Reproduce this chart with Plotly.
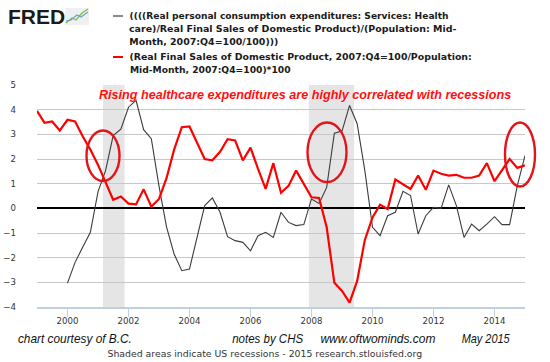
import json
import pandas as pd
import plotly.graph_objects as go

# ---------------- data ----------------
red_start = "1999-01-01"
red_values = [
    3.95, 3.47, 3.52, 3.16,   # 1999
    3.59, 3.52, 2.92, 2.38,   # 2000
    1.76, 1.02, 0.35, 0.48,   # 2001
    0.19, 0.16, 0.77, 0.07,   # 2002
    0.38, 1.22, 2.38, 3.29,   # 2003
    3.32, 2.66, 2.00, 1.95,   # 2004
    2.29, 2.80, 2.75, 1.94,   # 2005
    2.46, 1.60, 0.79, 1.83,   # 2006
    0.63, 0.91, 1.53, 0.99,   # 2007
    0.45, 0.42, -0.77, -3.02, # 2008
    -3.35, -3.82, -2.94, -1.28,  # 2009
    -0.37, 0.15, -0.03, 1.17,    # 2010
    0.99, 0.79, 1.33, 0.75,      # 2011
    1.53, 1.40, 1.33, 1.36,      # 2012
    1.24, 1.24, 1.33, 1.83,      # 2013
    1.10, 1.53, 2.00, 1.64,      # 2014
    1.74,                        # 2015
]
black_start = "2000-01-01"
black_values = [
    -3.03, -2.19, -1.58, -0.97,  # 2000
    0.68, 1.53, 2.95, 3.21,      # 2001
    4.10, 4.38, 3.19, 2.82,      # 2002
    0.90, -0.75, -1.85, -2.53,   # 2003
    -2.46, -1.18, 0.11, 0.42,    # 2004
    -0.16, -1.15, -1.31, -1.38,  # 2005
    -1.72, -1.11, -0.97, -1.18,  # 2006
    -0.16, -0.57, -0.70, -0.66,  # 2007
    0.38, 0.20, 0.85, 3.05,      # 2008
    3.13, 4.17, 3.43, 1.53,      # 2009
    -0.77, -1.11, -0.30, -0.16,  # 2010
    0.69, 0.52, -1.04, -0.30,    # 2011
    0.04, 0.00, 0.95, 0.11,      # 2012
    -1.18, -0.64, -0.91, -0.64,  # 2013
    -0.34, -0.66, -0.66, 0.92,   # 2014
    2.14,                        # 2015
]
recession_starts = ["2001-03-01", "2007-12-01"]
recession_ends = ["2001-11-15", "2009-05-25"]
x_tick_years = [2000, 2002, 2004, 2006, 2008, 2010, 2012, 2014]
y_ticks = [-4, -3, -2, -1, 0, 1, 2, 3, 4, 5]

black_name = ("((((Real personal consumption expenditures: Services: Health "
              "care)/Real Final Sales of Domestic Product)/(Population: Mid-"
              "Month, 2007:Q4=100/100)))")
red_name = ("(Real Final Sales of Domestic Product, 2007:Q4=100/Population: "
            "Mid-Month, 2007:Q4=100)*100")
black_legend_lines = [
    "((((Real personal consumption expenditures: Services: Health",
    "care)/Real Final Sales of Domestic Product)/(Population: Mid-",
    "Month, 2007:Q4=100/100)))",
]
red_legend_lines = [
    "(Real Final Sales of Domestic Product, 2007:Q4=100/Population:",
    "Mid-Month, 2007:Q4=100)*100",
]
headline = "Rising healthcare expenditures are highly correlated with recessions"
footer_notes = ["chart courtesy of B.C.", "notes by CHS", "www.oftwominds.com", "May 2015"]
source_note = "Shaded areas indicate US recessions - 2015 research.stlouisfed.org"

red_dates = pd.date_range(red_start, periods=len(red_values), freq="QS")
black_dates = pd.date_range(black_start, periods=len(black_values), freq="QS")

# ---------------- layout geometry (pixels) ----------------
W_PX, H_PX = 550, 362
L, R, T, B = 37, 525, 85, 307


def px(x):
    return (x - L) / (R - L)


def py(y):
    return (B - y) / (B - T)


fig = go.Figure()
fig.add_trace(go.Scatter(x=black_dates, y=black_values, mode="lines", name=black_name,
                         line=dict(color="#3c3c3c", width=1.1)))
fig.add_trace(go.Scatter(x=red_dates, y=red_values, mode="lines", name=red_name,
                         line=dict(color="#ff0000", width=2.2)))

shapes = []
for s, e in zip(recession_starts, recession_ends):
    shapes.append(dict(type="rect", xref="x", yref="paper", x0=s, x1=e, y0=0, y1=1,
                       fillcolor="#e5e5e5", line=dict(width=0), layer="below"))

# highlight ellipses
ellipse_px = [(86.5, 130.5, 119.5, 181), (307.5, 122.5, 346.5, 182), (505, 122.5, 535, 186.5)]
for x0, y0, x1, y1 in ellipse_px:
    shapes.append(dict(type="circle", xref="paper", yref="paper",
                       x0=px(x0), x1=px(x1), y0=py(y1), y1=py(y0),
                       line=dict(color="#e3151c", width=2.4), layer="above"))

# legend dashes
shapes.append(dict(type="line", xref="paper", yref="paper", x0=px(113), x1=px(123),
                   y0=py(16), y1=py(16), line=dict(color="#8a8a8a", width=2)))
shapes.append(dict(type="line", xref="paper", yref="paper", x0=px(113), x1=px(123),
                   y0=py(57), y1=py(57), line=dict(color="#ff0000", width=2)))

# small FRED icon
shapes.append(dict(type="rect", xref="paper", yref="paper", x0=px(65), x1=px(89),
                   y0=py(25), y1=py(8), fillcolor="#f0f0f0", line=dict(width=0)))
shapes.append(dict(type="path", xref="paper", yref="paper",
                   path="M {} {} L {} {} L {} {} L {} {} L {} {}".format(
                       px(66), py(23), px(72), py(18), px(76), py(20), px(82), py(13), px(88), py(9)),
                   line=dict(color="#7fbf3f", width=1.3)))
shapes.append(dict(type="path", xref="paper", yref="paper",
                   path="M {} {} L {} {} L {} {} L {} {} L {} {}".format(
                       px(66), py(21), px(71), py(20), px(77), py(15), px(81), py(17), px(88), py(12)),
                   line=dict(color="#6a9fd4", width=1.1)))

annotations = []
text_lengths = {}


def add_text(text, cx, cy, font, length=None):
    annotations.append(dict(text=text, xref="paper", yref="paper", x=px(cx), y=py(cy),
                            xanchor="center", yanchor="middle", showarrow=False, font=font))
    if length is not None:
        text_lengths[len(annotations) - 1] = length


add_text("FRED", 36, 16, dict(family="Liberation Sans", size=21, color="#1a1a1a", weight="bold"))

leg_font = dict(family="DejaVu Sans", size=8.6, color="#1a1a1a", weight="bold")
black_leg_geom = [(288.8, 319), (293.0, 327.4), (203.8, 149)]
for i, (line, (cx, ln)) in enumerate(zip(black_legend_lines, black_leg_geom)):
    add_text(line, cx, 16 + 13 * i, leg_font, ln)
red_leg_geom = [(300.5, 342.4), (209.7, 160.7)]
for i, (line, (cx, ln)) in enumerate(zip(red_legend_lines, red_leg_geom)):
    add_text(line, cx, 57 + 13 * i, leg_font, ln)

add_text(headline, 304.5, 94.5,
         dict(family="Liberation Sans", size=12.6, color="#ff1010", weight="bold", style="italic"))

footer_geom = [(74.8, 114), (267.3, 71), (378.3, 115), (486.2, 48)]
for t, (cx, ln) in zip(footer_notes, footer_geom):
    add_text(t, cx, 338, dict(family="Liberation Sans", size=13.5, color="#111111",
                              style="italic"), ln)

add_text(source_note, 265.3, 354.5, dict(family="DejaVu Sans", size=8, color="#333333"), 314.7)

fig.update_layout(
    width=W_PX, height=H_PX,
    margin=dict(l=L, r=W_PX - R, t=T, b=H_PX - B, pad=0),
    paper_bgcolor="white", plot_bgcolor="white",
    showlegend=False,
    shapes=shapes, annotations=annotations,
    xaxis=dict(type="date", range=["1999-01-01", "2015-01-01"], automargin=False,
               tickvals=[f"{y}-01-01" for y in x_tick_years],
               ticktext=[str(y) for y in x_tick_years],
               showgrid=False, zeroline=False,
               showline=True, linecolor="#c0d0e0", linewidth=2,
               ticks="outside", ticklen=8, tickcolor="#c0d0e0", tickwidth=1,
               ticklabelstandoff=-3,
               tickfont=dict(family="DejaVu Sans", size=8.6, color="#333333")),
    yaxis=dict(range=[-4, 5], tickvals=y_ticks, automargin=False,
               showgrid=True, gridcolor="#c8c8c8", gridwidth=1,
               zeroline=True, zerolinecolor="#000000", zerolinewidth=1.6,
               showline=False, ticks="", ticklabelstandoff=20,
               tickfont=dict(family="DejaVu Sans", size=8.6, color="#333333")),
)

post_js = (
    "document.body.style.margin='0';"
    "var gd=document.getElementById('{plot_id}');"
    "var LENS=" + json.dumps({str(k): v for k, v in text_lengths.items()}) + ";"
    "Object.keys(LENS).forEach(function(k){"
    "var t=gd.querySelector('.annotation[data-index=\"'+k+'\"] text.annotation-text');"
    "if(t){t.setAttribute('textLength',LENS[k]);t.setAttribute('lengthAdjust','spacingAndGlyphs');}"
    "});"
)

fig.write_html("out.html", post_script=post_js, config={"displayModeBar": False})
